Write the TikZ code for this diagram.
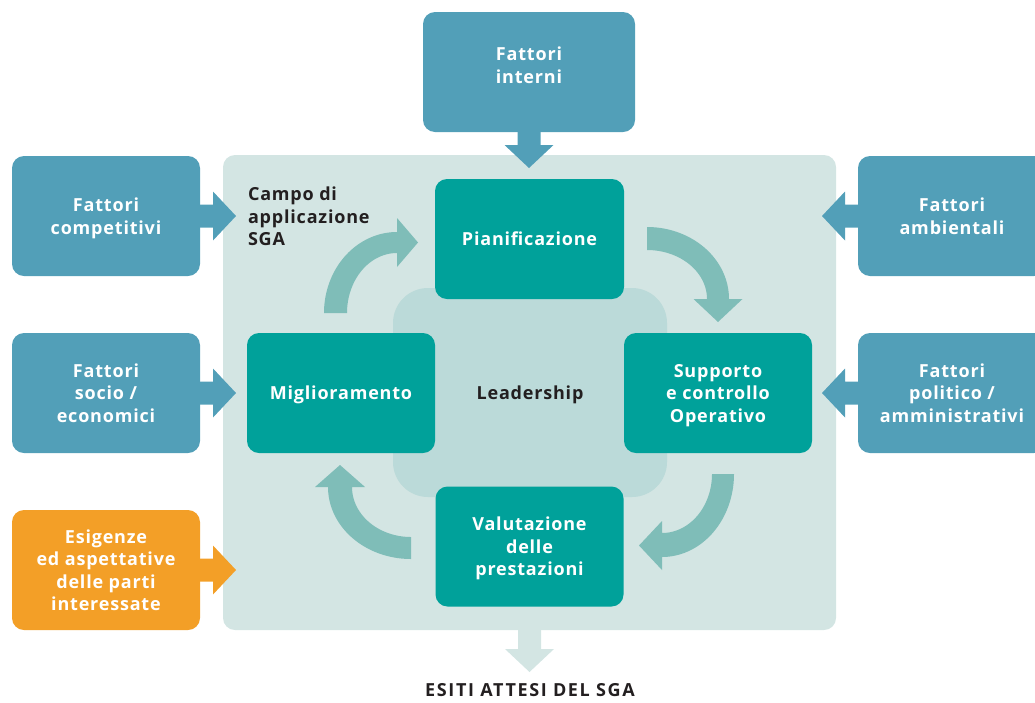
\documentclass[tikz,border=0pt]{standalone}
\usepackage{fontspec}
\setmainfont{Open Sans}[LetterSpace=4.5]
\usetikzlibrary{calc}
\definecolor{bgc}{HTML}{D3E5E3}
\definecolor{leadc}{HTML}{BBDAD9}
\definecolor{tealc}{HTML}{00A19A}
\definecolor{bluec}{HTML}{529FB8}
\definecolor{orc}{HTML}{F39F27}
\definecolor{curvc}{HTML}{7FBDB8}
\definecolor{darkc}{HTML}{231F20}
\newcommand\boxfnt{\bfseries\fontsize{18}{22.5}\selectfont}
\newfontfamily\widefnt{Open Sans}[LetterSpace=9]
\begin{document}
\begin{tikzpicture}[x=1pt,y=-1pt,
  every node/.style={outer sep=0pt, inner sep=0pt},
  shaftlen/.store in=\shaftlen, shaftlen=13,
  barrow/.pic={\fill[#1] (0,-11.5) -- (\shaftlen,-11.5) -- (\shaftlen,-24.5) -- (\shaftlen+23,0) -- (\shaftlen,24.5) -- (\shaftlen,11.5) -- (0,11.5) -- cycle;},
  box/.style={rounded corners=12pt, minimum width=188pt, minimum height=120pt, text=white, align=center, font=\boxfnt, text depth=0pt},
  blubox/.style={box, fill=bluec},
  orbox/.style={box, fill=orc},
  tealbox/.style={box, fill=tealc},
  curv/.style={fill=curvc},
  dark/.style={text=darkc, font=\boxfnt}
]
\clip (0,0) rectangle (1035,702);
% scope area
\node[fill=bgc, rounded corners=12pt, minimum width=613pt, minimum height=475pt] (campo) at (529.5,392.5) {};
\node[fill=leadc, rounded corners=35pt, minimum width=274pt, minimum height=209pt, dark, text depth=0pt] (lead) at (530,392.5) {Leadership};
\node[dark, anchor=north west, align=left] (campotxt) at (248,187) {Campo di\\applicazione\\SGA};

% outer factor boxes
\node[blubox, minimum width=212pt] (interni) at (529,72) {};
\node[text=white, font=\boxfnt, align=center] (internitxt) at (529,65) {Fattori\\interni};
\node[blubox] (competitivi) at (106,216) {Fattori\\competitivi};
\node[blubox] (socio) at (106,393) {Fattori\\socio /\\economici};
\node[orbox] (esigenze) at (106,570) {Esigenze\\ed aspettative\\delle parti\\interessate};
\node[blubox] (ambientali) at (952,216) {Fattori\\ambientali};
\node[blubox] (politico) at (952,393) {Fattori\\politico /\\amministrativi};

% block arrows
\pic[rotate=-90] at (interni.south) {barrow=bluec};
\pic at (competitivi.east) {barrow=bluec};
\pic at (socio.east) {barrow=bluec};
\pic at (esigenze.east) {barrow=orc};
\pic[rotate=180] at (ambientali.west) {barrow=bluec};
\pic[rotate=180] at (politico.west) {barrow=bluec};
\pic[rotate=-90, shaftlen=19] at (campo.south) {barrow=bgc};

% PDCA boxes
\node[tealbox, minimum width=189pt] (pian) at (529.5,239) {Pianificazione};
\node[tealbox] (migl) at (341,393) {Miglioramento};
\node[tealbox] (supp) at (718,393) {Supporto\\e controllo\\Operativo};
\node[tealbox] (valut) at (529.5,546.5) {Valutazione\\delle\\prestazioni};

% curved arrows
\fill[curv] plot[domain=180:270, samples=40] ({397+73*cos(\x)},{313+81*sin(\x)})
  -- (397,218) -- (418,242.5) -- (397,267) -- (397,253)
  -- plot[domain=270:180, samples=40] ({397+50*cos(\x)},{313+60*sin(\x)}) -- cycle;
\fill[curv] plot[domain=270:360, samples=40] ({647+82*cos(\x)},{299+72*sin(\x)})
  -- (742.5,299) -- (718,322) -- (693.5,299) -- (707,299)
  -- plot[domain=360:270, samples=40] ({647+60*cos(\x)},{299+49*sin(\x)}) -- cycle;
\fill[curv] plot[domain=0:90, samples=40] ({662+72*cos(\x)},{474+83*sin(\x)})
  -- (662,570) -- (639,545.5) -- (662,521) -- (662,533)
  -- plot[domain=90:0, samples=40] ({662+50*cos(\x)},{474+59*sin(\x)}) -- cycle;
\fill[curv] plot[domain=90:180, samples=40] ({411+83*cos(\x)},{487+72*sin(\x)})
  -- (315,487) -- (340,465) -- (365,487) -- (352,487)
  -- plot[domain=180:90, samples=40] ({411+59*cos(\x)},{487+50*sin(\x)}) -- cycle;

\node[text=darkc, font=\widefnt\bfseries\fontsize{18}{22}\selectfont] (esiti) at (530,690) {ESITI ATTESI DEL SGA};
\end{tikzpicture}
\end{document}
